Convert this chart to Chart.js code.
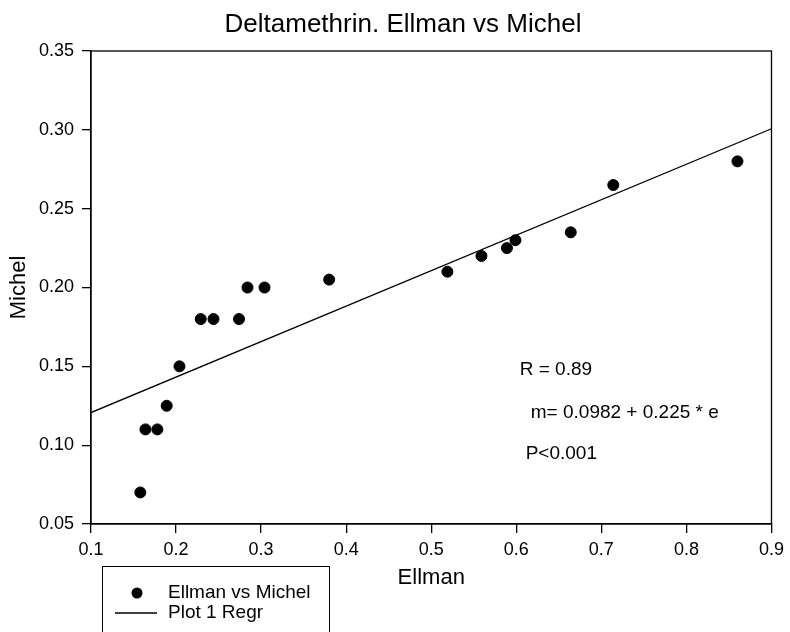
<!DOCTYPE html>
<html lang="en">
<head>
    <meta charset="UTF-8">
    <title>Deltamethrin. Ellman vs Michel</title>
    <style>
        body { margin: 0; background: #fff; }
        #wrap { width: 790px; height: 632px; }
    </style>
</head>
<body>
    <div id="wrap">
        <canvas id="chart" width="790" height="632"></canvas>
    </div>

    <script src="https://cdn.jsdelivr.net/npm/chart.js"></script>
    <script>
        // values
        const ellman = [0.158, 0.164, 0.178, 0.189, 0.204, 0.229, 0.244, 0.274, 0.284, 0.304, 0.380, 0.519, 0.559, 0.589, 0.599, 0.664, 0.714, 0.860];
        const michel = [0.070, 0.110, 0.110, 0.125, 0.150, 0.180, 0.180, 0.180, 0.200, 0.200, 0.205, 0.210, 0.220, 0.225, 0.230, 0.235, 0.265, 0.280];

        // regression line ends (m = 0.0982 + 0.225 * e)
        const regrX = [0.1, 0.9];
        const regrY = [0.1207, 0.3007];

        const xTicks = [0.1, 0.2, 0.3, 0.4, 0.5, 0.6, 0.7, 0.8, 0.9];
        const yTicks = [0.05, 0.10, 0.15, 0.20, 0.25, 0.30, 0.35];

        const notes = [
            { text: 'R = 0.89', x: 0.604, y: 0.1477 },
            { text: 'm= 0.0982 + 0.225 * e', x: 0.617, y: 0.1206 },
            { text: 'P<0.001', x: 0.611, y: 0.0945 }
        ];

        const FONT = '"Liberation Sans", Arial, sans-serif';

        // title, frame, text notes and the boxed legend under the axis
        const extras = {
            id: 'extras',
            afterDraw(chart) {
                const { ctx, chartArea: a, scales } = chart;
                ctx.save();
                ctx.fillStyle = '#000';
                ctx.textBaseline = 'middle';
                ctx.textAlign = 'center';
                ctx.font = '26px ' + FONT;
                ctx.fillText('Deltamethrin. Ellman vs Michel', 403, 25);

                ctx.strokeStyle = '#000';
                ctx.lineWidth = 1.3;
                ctx.strokeRect(a.left, a.top, a.right - a.left, a.bottom - a.top);

                ctx.font = '19px ' + FONT;
                ctx.textAlign = 'left';
                notes.forEach(n => {
                    ctx.fillText(n.text, scales.x.getPixelForValue(n.x), scales.y.getPixelForValue(n.y));
                });

                // legend
                ctx.lineWidth = 1;
                ctx.strokeRect(102.5, 566.5, 227, 80);
                const ds = chart.data.datasets;
                ctx.beginPath();
                ctx.arc(137, 593, ds[0].pointRadius, 0, Math.PI * 2);
                ctx.fillStyle = ds[0].backgroundColor;
                ctx.fill();
                ctx.beginPath();
                ctx.moveTo(115, 613);
                ctx.lineTo(157, 613);
                ctx.strokeStyle = ds[1].borderColor;
                ctx.lineWidth = ds[1].borderWidth;
                ctx.stroke();
                ctx.fillStyle = '#000';
                ctx.fillText(ds[0].label, 168, 593);
                ctx.fillText(ds[1].label, 168, 613);
                ctx.restore();
            }
        };

        const ctx = document.getElementById('chart').getContext('2d');
        new Chart(ctx, {
            type: 'scatter',
            data: {
                datasets: [
                    {
                        label: 'Ellman vs Michel',
                        data: ellman.map((v, i) => ({ x: v, y: michel[i] })),
                        backgroundColor: '#000',
                        borderColor: '#000',
                        pointRadius: 5.5,
                        pointHoverRadius: 5.5
                    },
                    {
                        label: 'Plot 1 Regr',
                        type: 'line',
                        data: regrX.map((v, i) => ({ x: v, y: regrY[i] })),
                        borderColor: '#000',
                        borderWidth: 1.3,
                        pointRadius: 0,
                        fill: false
                    }
                ]
            },
            options: {
                responsive: false,
                animation: false,
                layout: { padding: { left: 0, right: 16, top: 51, bottom: 0 } },
                scales: {
                    x: {
                        type: 'linear',
                        min: 0.1,
                        max: 0.9,
                        afterBuildTicks: s => { s.ticks = xTicks.map(v => ({ value: v })); },
                        afterFit: s => { s.height = 108; },
                        border: { color: '#000', width: 1.3 },
                        grid: { drawOnChartArea: false, color: '#000', tickLength: 9, lineWidth: 1.3 },
                        ticks: {
                            color: '#000',
                            padding: 6,
                            font: { family: FONT, size: 18 },
                            callback: v => v.toFixed(1)
                        },
                        title: {
                            display: true,
                            text: 'Ellman',
                            color: '#000',
                            font: { family: FONT, size: 22 },
                            padding: { top: 0, bottom: 41 }
                        }
                    },
                    y: {
                        min: 0.05,
                        max: 0.35,
                        afterBuildTicks: s => { s.ticks = yTicks.map(v => ({ value: v })); },
                        afterFit: s => { s.width = 91; },
                        border: { color: '#000', width: 1.3 },
                        grid: { drawOnChartArea: false, color: '#000', tickLength: 9, lineWidth: 1.3 },
                        ticks: {
                            color: '#000',
                            padding: 8,
                            font: { family: FONT, size: 18 },
                            callback: v => v.toFixed(2)
                        },
                        title: {
                            display: true,
                            text: 'Michel',
                            color: '#000',
                            font: { family: FONT, size: 22 },
                            padding: { top: 6, bottom: 0 }
                        }
                    }
                },
                plugins: {
                    legend: { display: false },
                    tooltip: { enabled: false },
                    title: { display: false }
                }
            },
            plugins: [extras]
        });
    </script>
</body>
</html>
